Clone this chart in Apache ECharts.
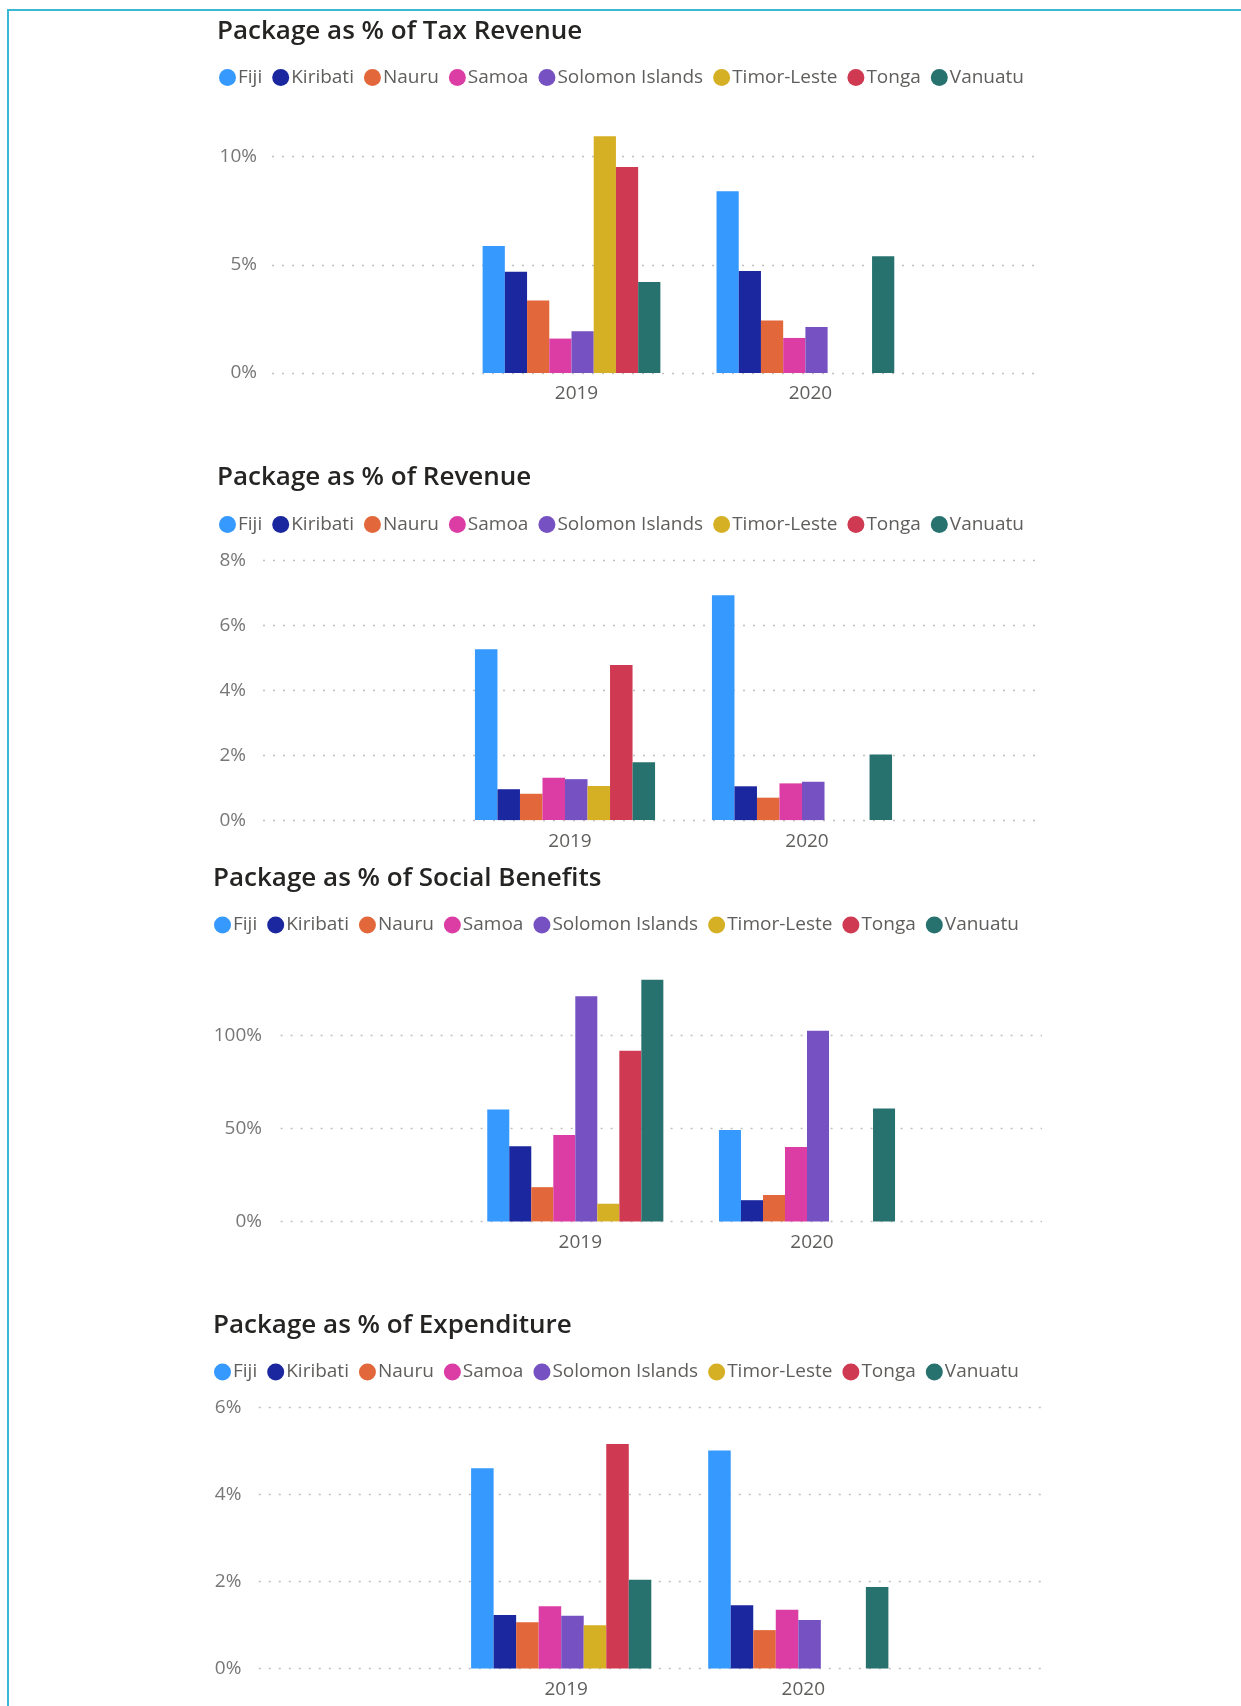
<!DOCTYPE html>
<html>
<head>
<meta charset="utf-8">
<script src="https://cdn.jsdelivr.net/npm/echarts@6/dist/echarts.min.js"></script>
<style>
  html, body { margin: 0; padding: 0; background: #fff; overflow: hidden; }
  #frame {
    position: absolute; left: 7px; top: 9px; width: 1400px; height: 1900px;
    border-top: 2px solid #3bb8d4; border-left: 2px solid #3bb8d4;
  }
  #chart { position: absolute; left: 0; top: 0; width: 1241px; height: 1706px; }
</style>
</head>
<body>
<div id="frame"></div>
<div id="chart"></div>
<script>
const years = ["2019", "2020"];
const countries = ["Fiji", "Kiribati", "Nauru", "Samoa", "Solomon Islands", "Timor-Leste", "Tonga", "Vanuatu"];
const colors = ["#3599fd", "#1b279e", "#e2673a", "#dc3da4", "#7651c2", "#d6b024", "#cf3a52", "#27726f"];

// values in %, one entry per country (same order as countries)
const taxRevenue2019 = [5.87, 4.68, 3.35, 1.59, 1.93, 10.94, 9.52, 4.21];
const taxRevenue2020 = [8.40, 4.71, 2.43, 1.62, 2.12, null, null, 5.40];
const revenue2019 = [5.26, 0.95, 0.81, 1.30, 1.26, 1.05, 4.77, 1.78];
const revenue2020 = [6.92, 1.04, 0.69, 1.13, 1.18, null, null, 2.02];
const socialBenefits2019 = [60.2, 40.4, 18.4, 46.5, 121.1, 9.5, 91.7, 129.9];
const socialBenefits2020 = [49.2, 11.4, 14.2, 40.0, 102.5, null, null, 60.7];
const expenditure2019 = [4.60, 1.23, 1.06, 1.43, 1.21, 0.99, 5.16, 2.04];
const expenditure2020 = [5.01, 1.45, 0.88, 1.35, 1.11, null, null, 1.87];

const W = 1241, H = 1706;

// layout of each panel (px in page coords)
const panels = [
  { title: "Package as % of Tax Revenue", v19: taxRevenue2019, v20: taxRevenue2020,
    titleX: 217, titleY: 34, legendX: 219, legendY: 78,
    gridL: 272, y0: 373, yTop: 156.6, max: 10, interval: 5, barMax: 12, labelGap: 15,
    c19: 571.5, c20: 805.4 },
  { title: "Package as % of Revenue", v19: revenue2019, v20: revenue2020,
    titleX: 217, titleY: 480, legendX: 219, legendY: 525,
    gridL: 263, y0: 820.1, yTop: 560.1, max: 8, interval: 2, barMax: 8, labelGap: 17,
    c19: 565, c20: 802 },
  { title: "Package as % of Social Benefits", v19: socialBenefits2019, v20: socialBenefits2020,
    titleX: 213, titleY: 880.5, legendX: 214, legendY: 925.4,
    gridL: 280.6, y0: 1221.4, yTop: 1035.4, max: 100, interval: 50, barMax: 140, labelGap: 18.6,
    c19: 575.3, c20: 807 },
  { title: "Package as % of Expenditure", v19: expenditure2019, v20: expenditure2020,
    titleX: 213, titleY: 1327.5, legendX: 214, legendY: 1372.4,
    gridL: 258.8, y0: 1668.4, yTop: 1407.4, max: 6, interval: 2, barMax: 6, labelGap: 17.4,
    c19: 561.2, c20: 798.3 }
];

const option = {
  animation: false,
  backgroundColor: "transparent",
  title: [], legend: [], grid: [], xAxis: [], yAxis: [], series: []
};

panels.forEach((p, k) => {
  const pxPerUnit = (p.y0 - p.yTop) / p.max;
  const catW = p.c20 - p.c19;

  option.title.push({
    text: p.title, left: p.titleX, top: p.titleY - 15, padding: 0,
    textStyle: { fontFamily: "Open Sans", fontWeight: 600, fontSize: 26, color: "#252423" }
  });
  option.legend.push({
    data: countries, left: p.legendX, top: p.legendY - 10, padding: 0,
    icon: "circle", itemWidth: 17, itemHeight: 17, itemGap: 10,
    textStyle: { fontFamily: "Open Sans", fontSize: 19, color: "#605e5c", padding: [0, 0, 0, -3] }
  });

  // grid A: dotted gridlines + y labels, full width
  option.grid.push({ left: p.gridL, right: W - 1042, top: p.yTop, bottom: H - p.y0, containLabel: false });
  // grid B: bars, narrower so categories sit where they do in the picture
  option.grid.push({
    left: p.c19 - catW / 2, width: catW * 2,
    top: p.y0 - p.barMax * pxPerUnit, bottom: H - p.y0, containLabel: false
  });

  option.xAxis.push({ gridIndex: 2 * k, type: "category", data: years, show: false });
  option.xAxis.push({
    gridIndex: 2 * k + 1, type: "category", data: years,
    axisLine: { show: false }, axisTick: { show: false },
    axisLabel: { margin: 11.5, padding: [0, 0, 0, 10], fontFamily: "Open Sans", fontSize: 19, color: "#605e5c" }
  });
  option.yAxis.push({
    gridIndex: 2 * k, type: "value", min: 0, max: p.max, interval: p.interval,
    axisLine: { show: false }, axisTick: { show: false },
    axisLabel: { margin: p.labelGap, formatter: "{value}%", fontFamily: "Open Sans", fontSize: 19, color: "#777777" },
    splitLine: { lineStyle: { type: [2, 8], color: "#c2c0be", width: 1.3 } }
  });
  option.yAxis.push({ gridIndex: 2 * k + 1, type: "value", min: 0, max: p.barMax, show: false, splitLine: { show: false } });

  countries.forEach((name, i) => {
    option.series.push({
      name: name, type: "bar",
      xAxisIndex: 2 * k + 1, yAxisIndex: 2 * k + 1,
      data: [p.v19[i], p.v20[i]],
      itemStyle: { color: colors[i] },
      barGap: "0%", barCategoryGap: "24%"
    });
  });
});

const chart = echarts.init(document.getElementById("chart"), null, { renderer: "canvas" });
chart.setOption(option);
</script>
</body>
</html>
